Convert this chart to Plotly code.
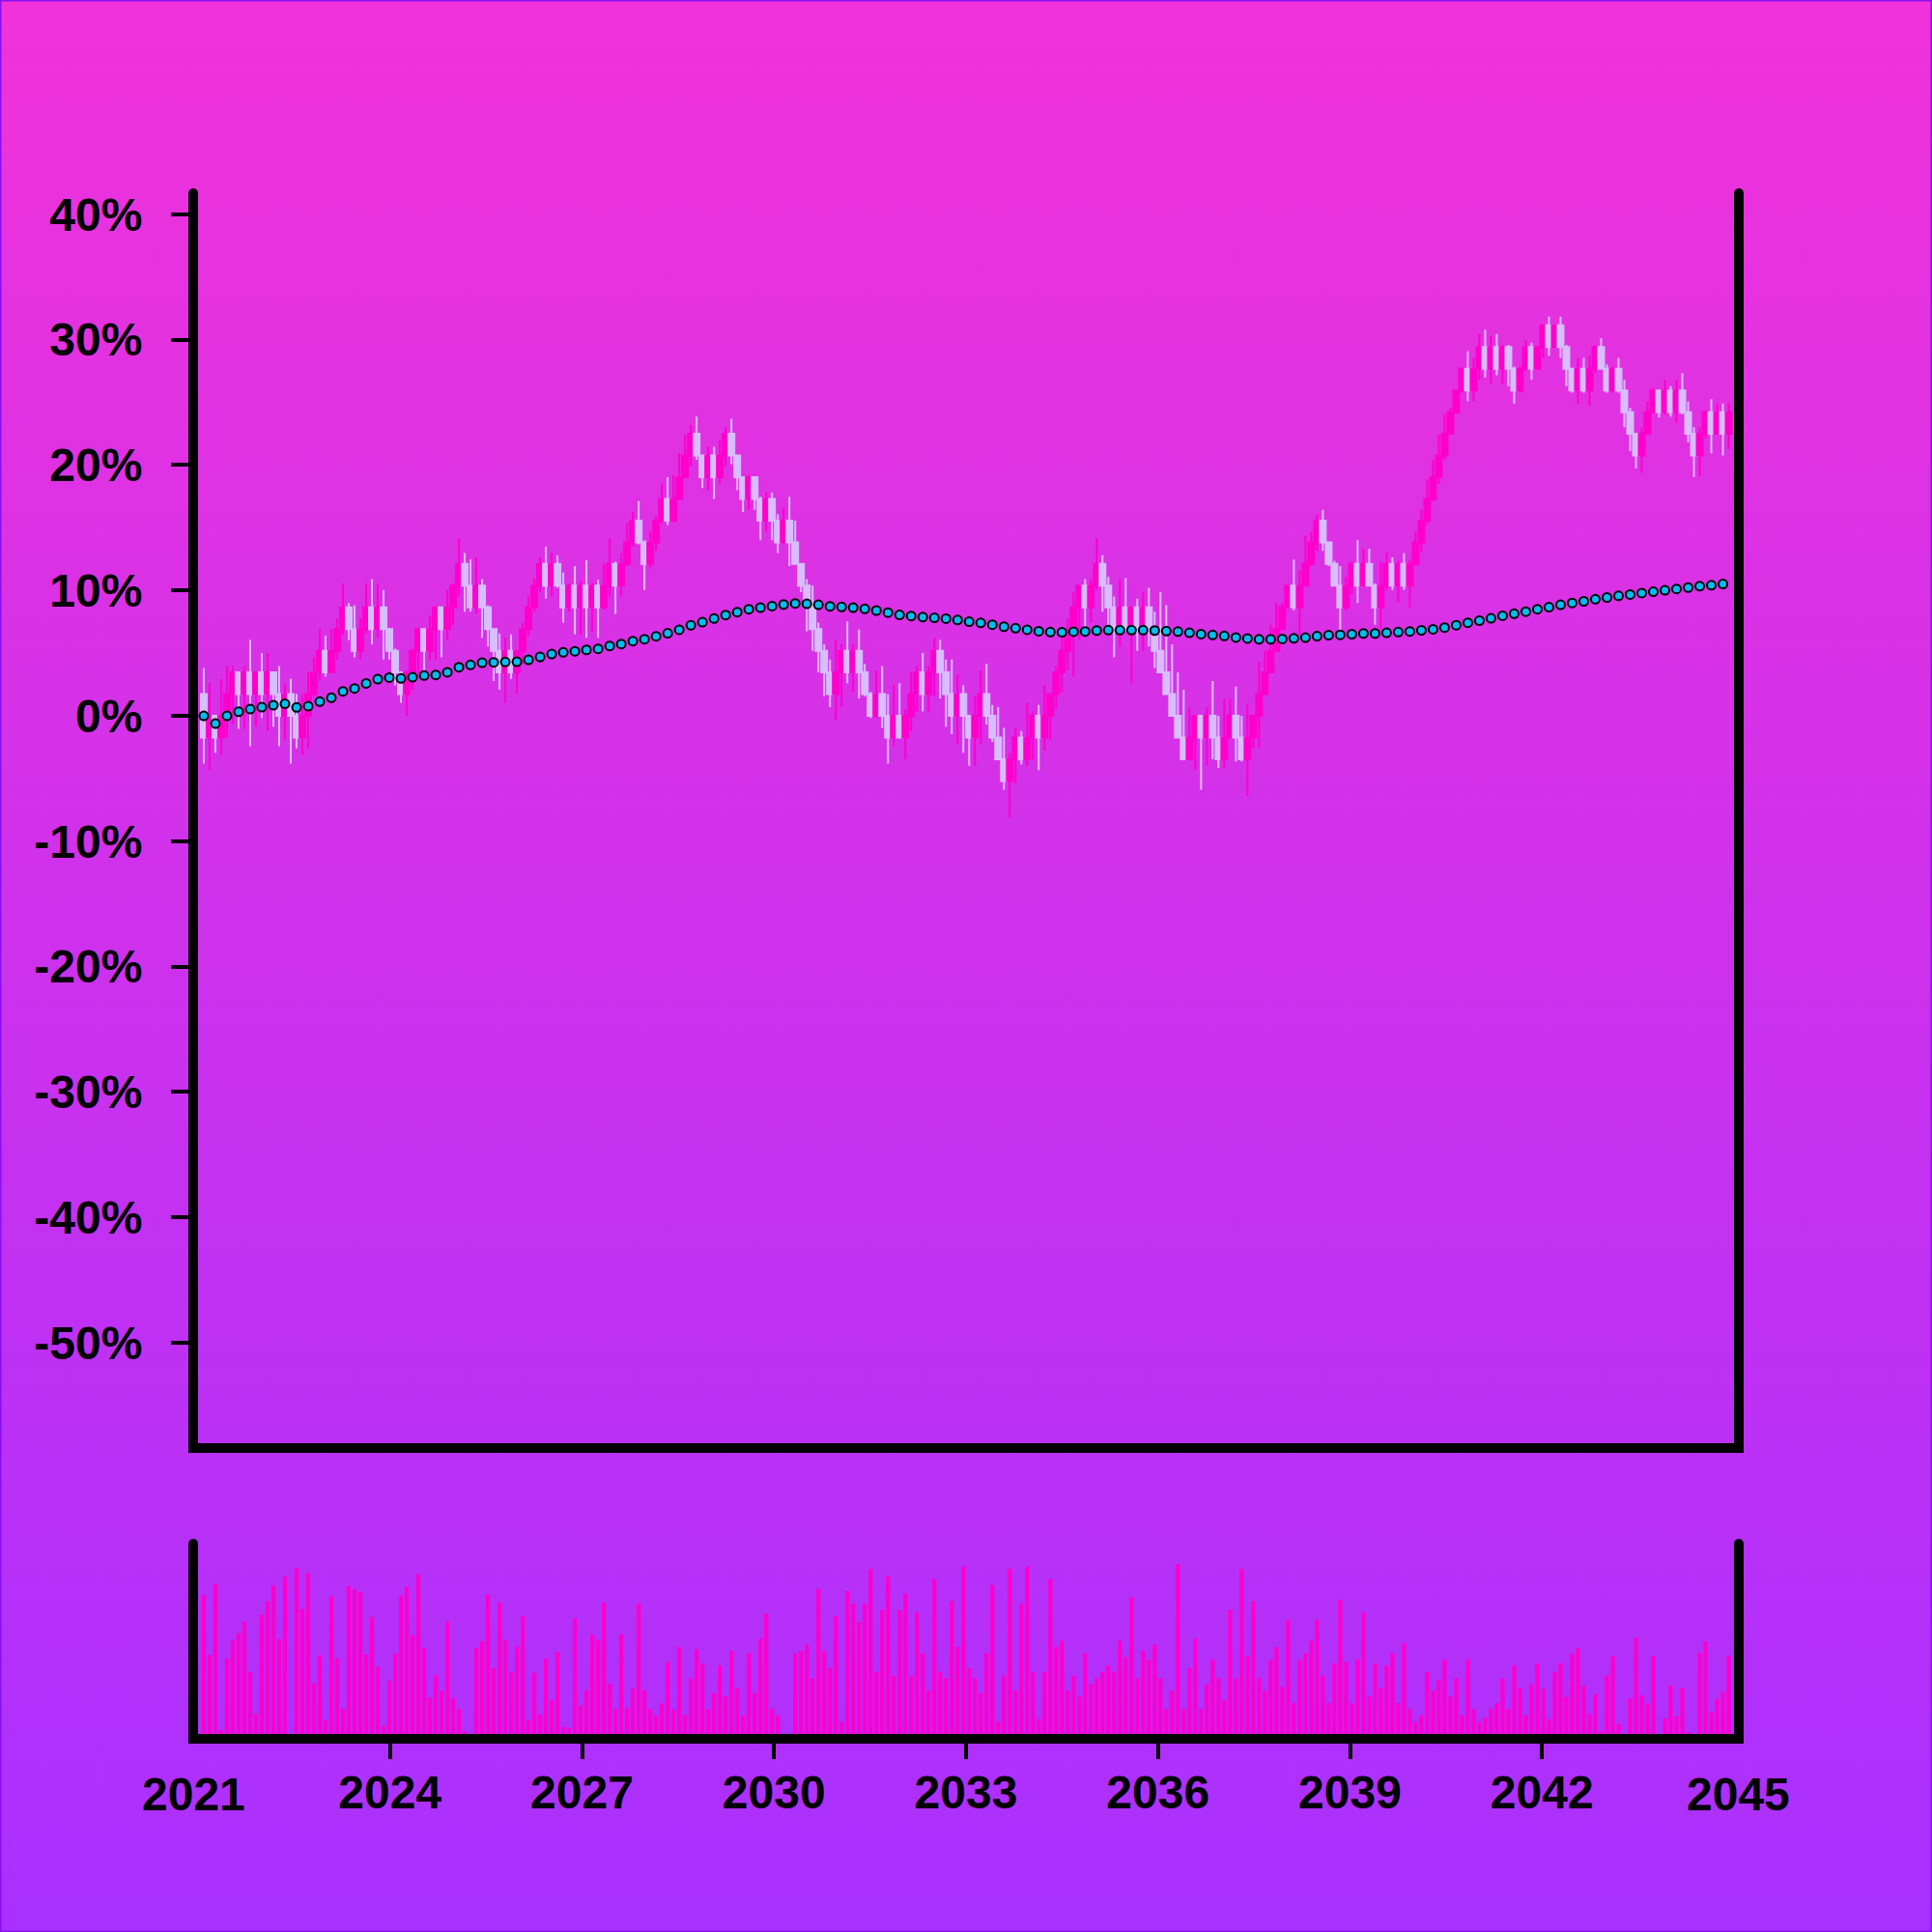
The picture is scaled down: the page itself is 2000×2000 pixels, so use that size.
import base64
import plotly.graph_objects as go

# ---------------- data ----------------
STEP = 0.0173          # price grid step (fraction) seen in candle bodies
FIRST_OPEN_LEVEL = 1   # first candle opens one level above 0
X_START = 2021.09      # first candle (year)
X_STEP = 0.0906        # candle spacing (years)

close_levels = [
    -1, 0, -1, 0, 1, 2, 1, 2, 1, 2,
    1, 2, 1, 0, 1, 0, -1, 0, 1, 2,
    3, 2, 3, 4, 5, 4, 3, 4, 5, 4,
    5, 4, 3, 2, 1, 2, 3, 4, 3, 4,
    5, 4, 5, 6, 7, 6, 5, 6, 5, 4,
    3, 2, 3, 2, 3, 4, 5, 6, 7, 6,
    7, 6, 5, 6, 5, 6, 5, 6, 5, 6,
    7, 6, 7, 8, 9, 8, 7, 8, 9, 10,
    9, 10, 11, 12, 13, 12, 11, 12, 11, 12,
    13, 12, 11, 10, 11, 10, 9, 10, 9, 8,
    9, 8, 7, 6, 5, 4, 3, 2, 1, 2,
    3, 2, 3, 2, 1, 0, 1, 0, -1, 0,
    -1, 0, 1, 2, 1, 2, 3, 2, 1, 0,
    1, 0, -1, 0, 1, 0, -1, -2, -3, -2,
    -1, -2, -1, 0, -1, 0, 1, 2, 3, 4,
    5, 6, 5, 6, 7, 6, 5, 4, 5, 4,
    5, 4, 5, 4, 3, 2, 1, 0, -1, -2,
    -1, 0, -1, 0, -1, -2, -1, 0, -1, -2,
    -1, 0, 1, 2, 3, 4, 5, 6, 5, 6,
    7, 8, 9, 8, 7, 6, 5, 6, 7, 6,
    7, 6, 5, 6, 7, 6, 7, 6, 7, 8,
    9, 10, 11, 12, 13, 14, 15, 16, 15, 16,
    17, 16, 17, 16, 17, 16, 15, 16, 17, 16,
    17, 18, 17, 18, 17, 16, 15, 16, 15, 16,
    17, 16, 15, 16, 15, 14, 13, 12, 13, 14,
    15, 14, 15, 14, 15, 14, 13, 12, 13, 14,
    13, 14, 13, 14,
]

# wick tops / bottoms, in grid levels
high_levels = [
    2.2, 1.5, 0.0, 1.7, 2.3, 2.3, 2.0, 2.3, 3.5, 2.0,
    2.9, 2.9, 2.0, 2.3, 1.45, 1.7, 1.0, 1.0, 2.0, 2.7,
    4.0, 3.7, 4.0, 4.5, 6.1, 5.2, 5.1, 4.5, 6.1, 6.3,
    6.1, 5.8, 4.05, 3.1, 2.0, 2.1, 3.1, 4.05, 3.75, 4.6,
    4.05, 4.9, 5.8, 6.1, 8.2, 7.5, 7.2, 7.3, 6.3, 5.1,
    3.9, 3.8, 3.6, 3.75, 3.0, 4.3, 5.5, 6.35, 7.3, 7.8,
    7.5, 7.4, 6.6, 6.1, 6.9, 6.2, 7.17, 6.13, 6.28, 7.0,
    8.2, 7.1, 7.5, 8.9, 9.4, 9.9, 8.1, 8.5, 9.2, 10.7,
    11.0, 11.1, 12.1, 12.95, 13.4, 13.8, 12.0, 12.4, 12.4, 12.7,
    13.3, 13.7, 12.0, 11.0, 11.1, 10.95, 10.1, 10.3, 10.3, 9.3,
    9.6, 10.1, 9.0, 7.0, 6.3, 6.0, 4.3, 3.3, 2.6, 3.5,
    3.3, 4.35, 3.3, 3.98, 2.4, 1.1, 2.1, 2.3, 1.0, 1.4,
    1.5, 0.3, 2.0, 2.3, 2.9, 2.3, 3.6, 3.5, 2.6, 2.6,
    1.9, 1.4, 0.0, 0.9, 2.1, 2.4, 0.5, 0.4, -0.55, -1.7,
    -0.55, -0.7, 0.6, 0.2, 0.5, 1.4, 0.9, 2.3, 3.75, 4.5,
    5.7, 5.7, 6.3, 6.3, 8.2, 7.4, 6.4, 5.5, 6.3, 6.35,
    4.9, 5.4, 5.7, 5.9, 4.8, 5.7, 5.1, 3.3, 2.0, 1.2,
    0.35, -0.25, -0.2, 0.4, 1.6, 0.0, 0.8, 0.8, 1.35, 0.0,
    0.55, -0.1, 2.5, 3.0, 4.2, 5.2, 5.2, 5.6, 7.2, 6.7,
    8.3, 8.5, 9.3, 9.5, 8.0, 7.15, 6.9, 6.4, 7.1, 8.1,
    7.7, 7.7, 6.1, 7.1, 7.55, 7.3, 7.15, 7.5, 7.2, 8.5,
    9.5, 10.9, 11.8, 12.96, 13.9, 14.2, 15.0, 16.0, 16.8, 16.5,
    17.6, 17.8, 17.5, 17.6, 17.1, 17.1, 16.1, 16.1, 17.3, 17.2,
    17.0, 18.0, 18.4, 18.0, 18.4, 17.1, 16.0, 16.5, 16.5, 16.6,
    17.1, 17.4, 16.2, 16.1, 16.5, 15.5, 14.2, 12.96, 13.3, 14.5,
    15.1, 15.0, 15.5, 15.2, 15.5, 15.8, 14.5, 13.3, 13.3, 14.1,
    14.6, 14.4, 14.4, 14.4,
]
low_levels = [
    -2.2, -2.5, -1.7, -1.8, -1.0, -0.4, -0.6, -0.6, -1.4, -0.5,
    -0.1, -0.7, -0.5, -1.4, -1.1, -2.2, -1.5, -1.8, -1.5, 0.9,
    1.6, 1.8, 2.0, 2.6, 3.75, 3.5, 2.7, 2.6, 3.8, 3.3,
    3.6, 2.6, 2.6, 1.4, 0.6, 0.0, 1.2, 1.8, 1.8, 2.6,
    2.6, 2.7, 3.5, 4.2, 5.5, 4.8, 4.8, 4.7, 3.6, 3.2,
    1.6, 1.2, 0.6, 1.7, 1.0, 2.4, 3.7, 4.8, 5.7, 5.4,
    5.5, 5.9, 4.3, 4.8, 3.75, 3.75, 3.6, 3.9, 3.6, 4.9,
    5.5, 4.7, 5.5, 6.9, 7.8, 7.9, 5.8, 6.8, 7.6, 8.9,
    8.8, 9.3, 10.3, 11.0, 11.5, 11.8, 10.5, 10.4, 10.0, 10.7,
    11.5, 11.6, 10.4, 9.4, 9.5, 9.5, 8.1, 8.5, 8.1, 7.5,
    7.9, 6.9, 7.4, 5.7, 3.9, 3.0, 2.0, 0.9, 0.4, -0.2,
    0.4, 1.5, 1.1, 0.8, 0.9, -0.1, -0.1, -0.55, -2.2, -1.4,
    -1.0, -2.0, -0.7, 0.2, 0.2, 0.2, 0.9, 0.8, -0.5, -0.85,
    -1.3, -1.7, -2.3, -2.3, -1.3, -0.4, -1.2, -2.0, -3.4, -4.7,
    -3.1, -2.25, -2.3, -2.0, -2.5, -1.6, -1.1, 0.3, 1.1, 2.1,
    1.8, 3.5, 3.9, 4.3, 5.8, 4.8, 3.9, 2.7, 3.2, 3.9,
    1.5, 3.0, 3.0, 3.2, 2.2, 3.0, 2.1, 0.9, -0.4, -1.1,
    -1.1, -2.5, -3.4, -2.3, -2.0, -2.4, -2.4, -1.0, -2.1, -2.1,
    -3.7, -1.5, -1.5, 1.0, 2.0, 3.1, 4.05, 5.0, 4.85, 3.7,
    6.6, 6.9, 7.6, 7.6, 6.9, 5.96, 3.9, 4.85, 5.6, 5.2,
    5.96, 5.96, 4.2, 4.0, 5.8, 5.8, 5.25, 5.8, 5.0, 6.9,
    7.55, 8.8, 9.9, 10.7, 11.8, 13.0, 13.9, 14.9, 14.5, 14.5,
    15.5, 15.6, 15.3, 15.7, 15.3, 15.2, 14.4, 14.9, 15.9, 15.5,
    16.0, 16.5, 16.6, 17.0, 16.5, 15.2, 14.9, 14.4, 14.9, 14.3,
    15.8, 16.0, 14.9, 14.9, 14.9, 13.3, 12.2, 11.4, 11.2, 12.96,
    14.0, 13.75, 13.9, 13.8, 13.5, 13.9, 12.6, 11.0, 11.05, 12.8,
    12.1, 12.96, 12.0, 12.3,
]

volume_a = [
    430, 245, 465, 12, 235, 290, 313, 348, 192, 62,
    370, 412, 460, 295, 488, 0, 515, 387, 498, 157,
    244, 42, 427, 235, 78, 459, 449, 440, 247, 363,
    210, 25, 165, 250, 430, 457, 307, 496, 266, 113,
    182, 135, 349, 112, 78, 8, 0, 268, 288, 433,
    204, 409, 292, 191, 271, 365, 43, 190, 61, 234,
    106, 254, 22, 18, 358, 88, 136, 308, 292, 408,
    156, 77, 310, 82, 140,
]
volume_b = [
    404, 135, 77, 58, 96, 223, 77, 270, 58, 173,
    262, 219, 77, 127, 212, 116, 258, 142, 58, 250,
    127, 296, 373, 77, 58,
    0, 0,
    250, 258, 277, 173, 450, 258, 204, 366, 38, 443,
    404, 347, 404, 512, 193, 385, 489, 181, 385, 435,
    181, 377, 250, 135, 481, 193, 173, 412, 270, 520,
    204, 173, 127, 250, 462, 38, 181, 512, 135, 404,
    520, 193, 46, 193, 481, 270, 289, 135, 181, 116,
    250, 154, 173, 193, 212, 193, 289, 239, 424, 173,
    258, 231, 277, 173, 77, 135, 527, 77, 204, 296,
    77, 154, 231, 173, 104, 385, 173, 512, 243, 412,
    173, 135, 231, 270, 146, 354, 96, 231, 250, 289,
    354, 181, 96, 219, 416, 223, 96, 231, 377, 116,
    219, 142, 212, 250, 96, 281, 77, 38, 58, 193,
    135, 166, 231, 116, 173, 58, 231, 77, 38, 50,
    77, 96, 173, 77,
    212, 142, 58, 154, 219,
]
volume_c = [
    140, 47, 192, 220, 115, 248, 268, 150, 63, 123,
    10, 182, 242, 30, 0, 110, 298, 120, 95, 242,
    0, 48, 150, 55, 143, 4, 0, 252, 287, 67,
    108, 130, 243,
]

ma_pct = [
    0.00, -0.62, 0.00, 0.33, 0.54, 0.69, 0.85, 0.96, 0.67, 0.77,
    1.13, 1.44, 1.95, 2.18, 2.59, 2.93, 3.05, 2.98, 3.08, 3.21,
    3.26, 3.47, 3.88, 4.06, 4.24, 4.26, 4.29, 4.31, 4.47, 4.70,
    4.93, 5.06, 5.15, 5.26, 5.34, 5.57, 5.73, 5.96, 6.11, 6.34,
    6.58, 6.86, 7.22, 7.47, 7.76, 8.04, 8.27, 8.50, 8.63, 8.75,
    8.88, 8.96, 8.93, 8.86, 8.73, 8.68, 8.63, 8.53, 8.40, 8.23,
    8.05, 7.96, 7.87, 7.82, 7.75, 7.64, 7.51, 7.41, 7.27, 7.11,
    6.99, 6.86, 6.75, 6.68, 6.66, 6.71, 6.73, 6.80, 6.83, 6.83,
    6.83, 6.83, 6.80, 6.76, 6.72, 6.62, 6.52, 6.45, 6.37, 6.25,
    6.17, 6.10, 6.10, 6.13, 6.18, 6.24, 6.35, 6.43, 6.46, 6.51,
    6.57, 6.57, 6.62, 6.68, 6.73, 6.82, 6.90, 7.04, 7.23, 7.42,
    7.59, 7.78, 7.98, 8.14, 8.31, 8.50, 8.66, 8.86, 9.00, 9.13,
    9.30, 9.44, 9.57, 9.68, 9.79, 9.90, 10.01, 10.12, 10.23, 10.34,
    10.42, 10.51,
]

year_ticks = [2024, 2027, 2030, 2033, 2036, 2039, 2042]
year_edge_labels = [2021, 2045]
pct_ticks = [-0.5, -0.4, -0.3, -0.2, -0.1, 0.0, 0.1, 0.2, 0.3, 0.4]
pct_labels = ["-50%", "-40%", "-30%", "-20%", "-10%", "0%", "10%", "20%", "30%", "40%"]

# ---------------- derived ----------------
n = len(close_levels)
x = [X_START + X_STEP * i for i in range(n)]
close = [k * STEP for k in close_levels]
open_ = [FIRST_OPEN_LEVEL * STEP] + close[:-1]
high = [max(h * STEP, o, c) for h, o, c in zip(high_levels, open_, close)]
low = [min(l * STEP, o, c) for l, o, c in zip(low_levels, open_, close)]
volume = volume_a + volume_b + volume_c
ma_x = x[0::2][:len(ma_pct)]
ma_y = [v / 100 for v in ma_pct]

PINK = "#FF00CC"
LAV = "#D8BDFF"
FONT = dict(family="Liberation Sans, Arial, sans-serif", size=48, color="black", weight="bold")

svg = ("<svg xmlns='http://www.w3.org/2000/svg' width='2000' height='2000'>"
       "<defs><linearGradient id='g' x1='0' y1='0' x2='0' y2='1'>"
       "<stop offset='0' stop-color='#F032DA'/><stop offset='1' stop-color='#A930FF'/>"
       "</linearGradient></defs><rect width='2000' height='2000' fill='url(#g)'/></svg>")
bg_uri = "data:image/svg+xml;base64," + base64.b64encode(svg.encode()).decode()

fig = go.Figure()
fig.add_trace(go.Candlestick(
    x=x, open=open_, high=high, low=low, close=close,
    increasing=dict(line=dict(color=PINK, width=2), fillcolor=PINK),
    decreasing=dict(line=dict(color=LAV, width=2), fillcolor=LAV),
    whiskerwidth=0, xaxis="x", yaxis="y", hoverinfo="skip",
))
fig.add_trace(go.Scatter(
    x=ma_x, y=ma_y, mode="markers",
    marker=dict(size=9, color="#00BEF0", line=dict(color="black", width=2)),
    xaxis="x", yaxis="y", hoverinfo="skip",
))
fig.add_trace(go.Bar(
    x=x, y=volume, marker=dict(color=PINK, line=dict(width=0)),
    xaxis="x2", yaxis="y2", hoverinfo="skip",
))

axis_common = dict(showgrid=False, zeroline=False, linecolor="black", linewidth=10, showline=True)
MAIN_BOTTOM = 0.1887
VOL_TOP = 0.1235

caps = []
for px, py, dx in [(0, 1, -1), (1, 1, 1), (0, VOL_TOP, -1), (1, VOL_TOP, 1)]:
    x0, x1 = (-10, 0) if dx < 0 else (0, 10)
    caps.append(dict(type="circle", xref="paper", yref="paper", xsizemode="pixel", ysizemode="pixel",
                     xanchor=px, yanchor=py, x0=x0, x1=x1, y0=-5, y1=5,
                     fillcolor="black", line=dict(width=0)))

edge_annotations = [
    dict(text=str(yv), x=yv, xref="x2", y=0, yref="paper", yanchor="middle",
         xanchor="center", yshift=-62, xshift=(-5 if yv == 2021 else 4),
         showarrow=False, font=FONT)
    for yv in year_edge_labels
]

fig.update_layout(
    width=2000, height=2000,
    margin=dict(l=205, r=205, t=200, b=205),
    paper_bgcolor="#D838E8", plot_bgcolor="rgba(0,0,0,0)",
    showlegend=False, boxgap=0, boxgroupgap=0, bargap=0.3,
    xaxis=dict(domain=[0, 1], anchor="y", range=[2021, 2045], matches="x2",
               showticklabels=False, ticks="", rangeslider=dict(visible=False), **axis_common),
    yaxis=dict(domain=[MAIN_BOTTOM, 1], anchor="x", range=[-0.5801, 0.4168], mirror=True,
               ticks="outside", ticklen=18, tickwidth=4, tickcolor="black",
               ticklabelstandoff=20,
               tickvals=pct_ticks, ticktext=pct_labels, tickfont=FONT, **axis_common),
    xaxis2=dict(domain=[0, 1], anchor="y2", range=[2021, 2045],
                ticks="outside", ticklen=16, tickwidth=4, tickcolor="black",
                ticklabelstandoff=-7,
                tickvals=year_ticks, ticktext=[str(y) for y in year_ticks], tickfont=FONT,
                **axis_common),
    yaxis2=dict(domain=[0, VOL_TOP], anchor="x2", range=[0, 590], mirror=True,
                showticklabels=False, ticks="", **axis_common),
    images=[dict(source=bg_uri, xref="paper", yref="paper", x=-205 / 1590, y=1 + 200 / 1595,
                 sizex=2000 / 1590, sizey=2000 / 1595, sizing="stretch",
                 xanchor="left", yanchor="top", layer="below")],
    shapes=[dict(type="rect", xref="paper", yref="paper",
                 x0=-205 / 1590, x1=1 + 205 / 1590, y0=-205 / 1595, y1=1 + 200 / 1595,
                 line=dict(color="#8A10F0", width=3), layer="below")] + caps,
    annotations=edge_annotations,
)

fig.write_html(
    "out.html",
    config={"displayModeBar": False},
    post_script="document.body.style.margin='0';document.body.style.padding='0';"
                "document.body.style.overflow='hidden';",
)
